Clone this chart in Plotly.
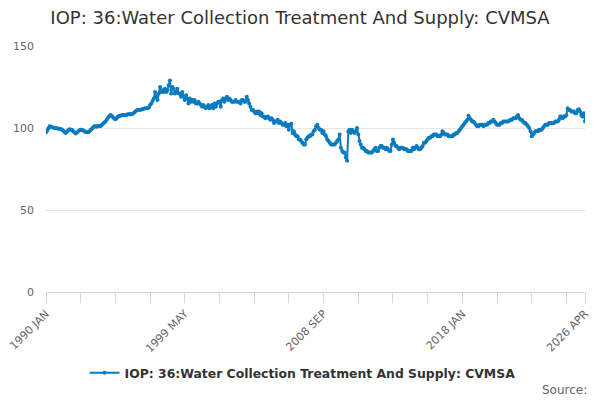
import plotly.graph_objects as go

# monthly values, 1990 JAN .. 2026 APR
y1990 = [97.4, 98.5, 99.8, 101, 100.8, 100.5, 100.2, 100, 99.8, 99.9, 99.6, 99.5]
y1991 = [99.4, 99.0, 98.3, 97.6, 97.0, 97.8, 98.6, 99.2, 99.0, 99.0, 98.0, 97.2]
y1992 = [96.6, 97.2, 98.0, 98.6, 99.0, 99.0, 98.5, 98.0, 97.6, 97.5, 97.4, 98.0]
y1993 = [98.8, 99.6, 100.3, 101, 101, 100.8, 101.2, 101, 101, 101.8, 102.6, 103.3]
y1994 = [104, 105, 106.2, 107.2, 108, 107.5, 106.5, 105.8, 105.4, 106, 106.8, 107.3]
y1995 = [107.5, 107.8, 108, 108, 107.8, 108, 108.4, 108.6, 108.2, 108.5, 108.7, 109.3]
y1996 = [110, 110.6, 111, 111.2, 111, 111.3, 111.6, 111.8, 112, 112, 112, 112.5]
y1997 = [114, 115, 116.5, 118, 122, 119, 117, 121, 125, 122, 123, 122]
y1998 = [124, 122, 123, 126, 129, 121, 125, 124, 121, 122, 124, 121]
y1999 = [121, 119, 122, 119, 117, 120, 118, 115, 118, 116, 117, 116]
y2000 = [117, 115, 115, 116, 115, 114, 113, 114, 113, 112, 113, 114]
y2001 = [112, 113, 114, 112, 115, 113, 115, 116, 116, 113, 117, 118]
y2002 = [116, 118, 119, 117, 118, 117, 116, 116, 116, 117, 116, 116]
y2003 = [116, 115, 117, 117, 116, 116, 119, 117, 115, 113, 111, 111]
y2004 = [110, 109, 110, 109, 110, 108, 109, 107, 107, 106, 106.5, 107]
y2005 = [106, 105, 106, 105, 103, 104, 104, 105, 103, 104, 103, 102]
y2006 = [102, 103, 101, 102, 99, 102, 102.6, 97, 98, 96, 95, 95]
y2007 = [93, 93, 92, 91, 90, 90, 93, 94, 95, 95, 96, 96]
y2008 = [98, 99, 101, 102, 100, 99, 99, 97, 98, 96, 95, 93]
y2009 = [92, 91, 90, 90, 90, 90, 91, 92, 93, 96, 88, 86]
y2010 = [85, 85, 82, 80, 98, 99, 97, 99, 98, 97, 98, 100]
y2011 = [96, 92, 90, 88, 88, 87, 86, 86, 85, 85, 85, 85]
y2012 = [86, 87, 88, 86, 86, 88, 89, 89, 88, 88, 87, 88]
y2013 = [87, 86, 86, 90, 93, 91, 89, 89, 88, 87, 88, 88]
y2014 = [88, 87, 87, 87, 86, 86, 86, 86, 88, 87, 88, 89]
y2015 = [88, 87, 87, 88, 89, 91, 91, 92, 93, 94, 94, 95]
y2016 = [95, 96, 96, 96, 95, 95, 95, 96, 98, 97, 96, 96]
y2017 = [96, 95, 95, 95, 95, 96, 96, 97, 97, 98, 99, 100]
y2018 = [101, 102, 103, 104, 105, 107.5, 106, 105, 104, 104, 103, 102]
y2019 = [101, 101, 102, 102, 102, 101, 102, 102, 102, 103, 103, 104]
y2020 = [104, 105, 104, 103, 102, 102, 102, 103, 103, 104, 104, 104]
y2021 = [104, 104, 104.6, 105, 105, 106, 106, 106, 107, 108, 106, 105]
y2022 = [105, 104, 103, 103, 102, 101, 100, 98, 95, 96, 97, 98]
y2023 = [98, 98, 99, 99, 99, 100, 101, 102, 102, 102, 103, 103]
y2024 = [103, 103, 103, 104, 104, 104, 105, 107, 107, 106, 107, 107]
y2025 = [108, 112, 111, 111, 110, 110, 110, 109, 109, 111, 111.5, 110]
y2026 = [108, 107, 109, 104]

months = ['JAN', 'FEB', 'MAR', 'APR', 'MAY', 'JUN', 'JUL', 'AUG', 'SEP', 'OCT', 'NOV', 'DEC']
tick_labels = ['1990 JAN', '1999 MAY', '2008 SEP', '2018 JAN', '2026 APR']
series_name = 'IOP: 36:Water Collection Treatment And Supply: CVMSA'

values = (y1990 + y1991 + y1992 + y1993 + y1994 + y1995 + y1996 + y1997 + y1998
          + y1999 + y2000 + y2001 + y2002 + y2003 + y2004 + y2005 + y2006 + y2007
          + y2008 + y2009 + y2010 + y2011 + y2012 + y2013 + y2014 + y2015 + y2016
          + y2017 + y2018 + y2019 + y2020 + y2021 + y2022 + y2023 + y2024 + y2025 + y2026)
periods = [f'{1990 + k // 12} {months[k % 12]}' for k in range(len(values))]

# tick marks every 28 months, labels on every fourth one plus the last
tick_vals = periods[::28] + [periods[-1]]
tick_text = [p if p in tick_labels else '' for p in tick_vals]

fig = go.Figure()
fig.add_trace(go.Scatter(
    x=periods, y=values, name=series_name, mode='lines+markers',
    line=dict(color='#0a7bc0', width=2),
    marker=dict(size=4, color='#0a7bc0'),
))

fig.update_layout(
    width=600, height=400,
    margin=dict(l=46, r=15, t=46, b=108),
    paper_bgcolor='white', plot_bgcolor='white',
    font=dict(family='DejaVu Sans', color='#666666'),
    title=dict(text='IOP: 36:Water Collection Treatment And Supply: CVMSA',
               x=0.5, xanchor='center', xref='container',
               y=1 - 18 / 400, yanchor='middle', yref='container',
               font=dict(size=18, color='#333333')),
    showlegend=True,
    legend=dict(orientation='h', x=0.476, xanchor='center', y=-0.33, yanchor='middle',
                font=dict(size=12.4, color='#333333', weight='bold')),
    annotations=[dict(text='Source:', xref='paper', yref='paper', x=1.008, y=-0.398,
                      xanchor='right', yanchor='middle', showarrow=False,
                      font=dict(size=12, color='#666666'))],
)

fig.update_xaxes(
    type='category', range=[0, len(values) - 1], automargin=False,
    tickmode='array', tickvals=tick_vals, ticktext=tick_text,
    tickangle=-45, tickfont=dict(size=11, color='#666666'),
    ticks='outside', ticklen=10, tickcolor='#ccd6eb',
    showline=True, linecolor='#ccd6eb', linewidth=1,
    showgrid=False, zeroline=False,
)
fig.update_yaxes(
    range=[0, 150], tickvals=[0, 50, 100, 150], automargin=False,
    tickfont=dict(size=11, color='#666666'),
    showgrid=True, gridcolor='#e6e6e6', zeroline=False,
    ticks='', ticklabelstandoff=11,
)

fig.write_html('out.html', config={'displayModeBar': False},
               post_script="document.body.style.margin='0';")
